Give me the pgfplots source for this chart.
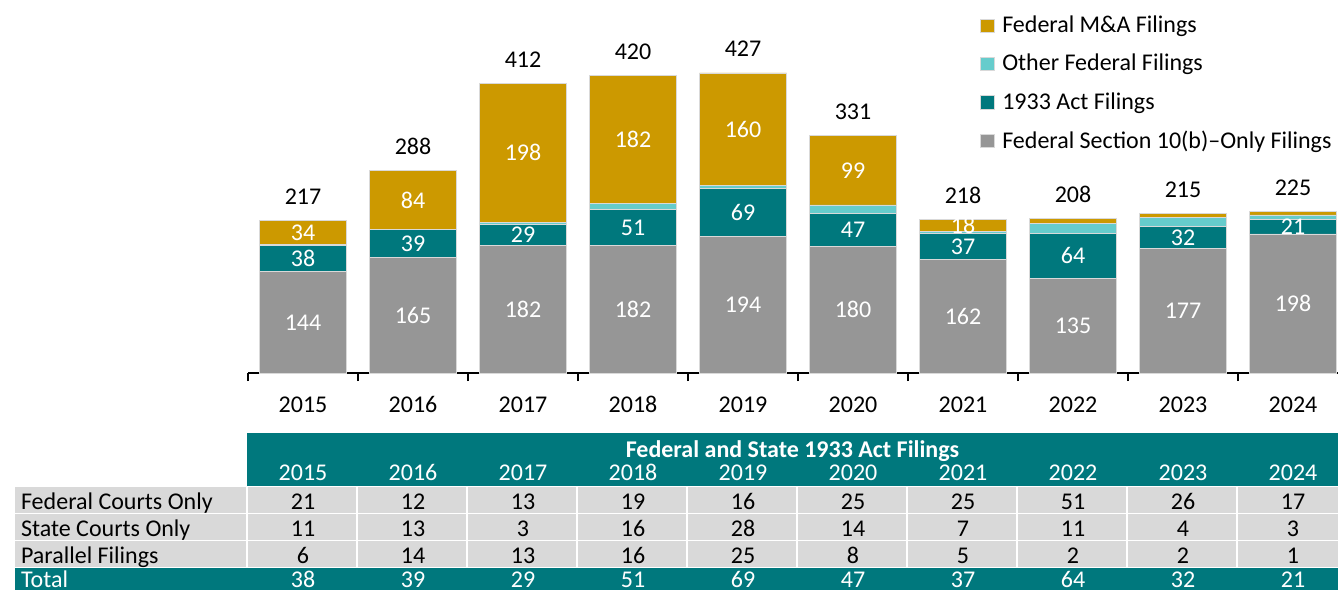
\documentclass[border=0pt]{standalone}
\usepackage{pgfplots}
\pgfplotsset{compat=1.18}
\usepackage{pgfplotstable}
\usepackage{fontspec}
\setmainfont{Carlito}
\definecolor{cGold}{RGB}{204,153,0}
\definecolor{cCyan}{RGB}{102,204,204}
\definecolor{cTeal}{RGB}{0,120,125}
\definecolor{cGray}{RGB}{150,150,150}
\definecolor{cRow}{RGB}{217,217,217}
\newcommand\cf{\fontsize{12}{14.4}\selectfont}
\pgfplotsset{/pgf/number format/assume math mode=true}
\tikzset{cell/.style={font=\cf, text height=8pt, text depth=0pt}}

% stacked filings by year (x = 0 is 2015)
\pgfplotstableread{
x  sec  act  oth  ma   tot
0  144  38   1    34   217
1  165  39   0    84   288
2  182  29   3    198  412
3  182  51   8    182  420
4  194  69   4    160  427
5  180  47   12   99   331
6  162  37   2    18   218
7  135  64   14   7    208
8  177  32   12   6    215
9  198  21   6    5    225
}\filings

\begin{document}
\begin{tikzpicture}
\useasboundingbox (0,0) rectangle (669pt,295pt);
\begin{axis}[
    at={(151.5pt,108.5pt)}, anchor=origin,
    x=55pt, y=0.3515pt,
    xmin=-0.5, xmax=9.418, ymin=0, ymax=430,
    ybar stacked, bar width=43.5pt,
    clip=false,
    axis x line*=bottom, axis y line=none,
    x axis line style={-, line width=0.8pt, black},
    xtick={0,...,9},
    xticklabels={2015,2016,2017,2018,2019,2020,2021,2022,2023,2024},
    major tick length=0pt,
    minor xtick={-0.5,0.5,...,8.5},
    minor tick length=4pt,
    tick align=outside,
    minor tick style={line width=0.8pt, black},
    xticklabel style={cell, yshift=-8pt},
    reverse legend,
    legend cell align=left,
    legend style={draw=none, fill=none, anchor=north west,
        at={(rel axis cs:0.671,1.196)}, font=\cf,
        row sep=5.3pt, inner sep=0pt},
    legend image code/.code={\fill[#1] (0pt,-3.3pt) rectangle (6.6pt,3.3pt); \path (8.6pt,0pt);},
]
\addplot[fill=cGray, draw=white!85!black, line width=0.3pt] table[x=x, y=sec]{\filings};
\addlegendentry{Federal Section 10(b)--Only Filings}
\addplot[fill=cTeal, draw=white!85!black, line width=0.3pt] table[x=x, y=act]{\filings};
\addlegendentry{1933 Act Filings}
\addplot[fill=cCyan, draw=white!85!black, line width=0.3pt] table[x=x, y=oth]{\filings};
\addlegendentry{Other Federal Filings}
\addplot[fill=cGold, draw=white!85!black, line width=0.3pt] table[x=x, y=ma]{\filings};
\addlegendentry{Federal M\&A Filings}
\end{axis}

% labels, same frame
\begin{axis}[
    at={(151.5pt,108.5pt)}, anchor=origin,
    x=55pt, y=0.3515pt,
    xmin=-0.5, xmax=9.418, ymin=0, ymax=430,
    hide axis, clip=false,
    nodes near coords, point meta=explicit,
    nodes near coords style={anchor=center, cell, text=white},
]
\addplot[draw=none, mark=none] table[x=x, y expr=\thisrow{sec}/2, meta=sec]{\filings};
\addplot[draw=none, mark=none] table[x=x, y expr=\thisrow{sec}+\thisrow{act}/2, meta=act]{\filings};
\addplot[draw=none, mark=none, restrict x to domain=-0.5:6.5]
    table[x=x, y expr=\thisrow{sec}+\thisrow{act}+\thisrow{oth}+\thisrow{ma}/2, meta=ma]{\filings};
\addplot[draw=none, mark=none, nodes near coords style={text=black, yshift=12pt}]
    table[x=x, y expr=\thisrow{sec}+\thisrow{act}+\thisrow{oth}+\thisrow{ma}, meta=tot]{\filings};
\end{axis}

% table below the chart
\fill[cTeal] (123.5pt,52pt) rectangle (669pt,78.5pt);
\node[cell, font=\cf\bfseries, text=white] at (396.25pt,70.5pt) {Federal and State 1933 Act Filings};
\foreach \yr [count=\i from 0] in {2015,...,2024}
    \node[cell, text=white] at (151.5pt+55pt*\i,59pt) {\yr};
\foreach \t/\b in {51.5pt/38.5pt, 38pt/25pt, 24.5pt/11.5pt}
    \fill[cRow] (7.5pt,\b) rectangle (669pt,\t);
\fill[cTeal] (7.5pt,0pt) rectangle (669pt,11pt);
\foreach \k in {0,...,9}
    \draw[white, line width=1pt] (123.5pt+55pt*\k,11.5pt) -- ++(0,40pt);
\foreach \lab/\yy/\col/\vals in {
    Federal Courts Only/44.5pt/black/{21,12,13,19,16,25,25,51,26,17},
    State Courts Only/31pt/black/{11,13,3,16,28,14,7,11,4,3},
    Parallel Filings/17.5pt/black/{6,14,13,16,25,8,5,2,2,1},
    Total/5.5pt/white/{38,39,29,51,69,47,37,64,32,21}} {
    \node[cell, text=\col, anchor=west] at (7pt,\yy) {\lab};
    \foreach \v [count=\i from 0] in \vals
        \node[cell, text=\col] at (151.5pt+55pt*\i,\yy) {\v};
}
\end{tikzpicture}
\end{document}
